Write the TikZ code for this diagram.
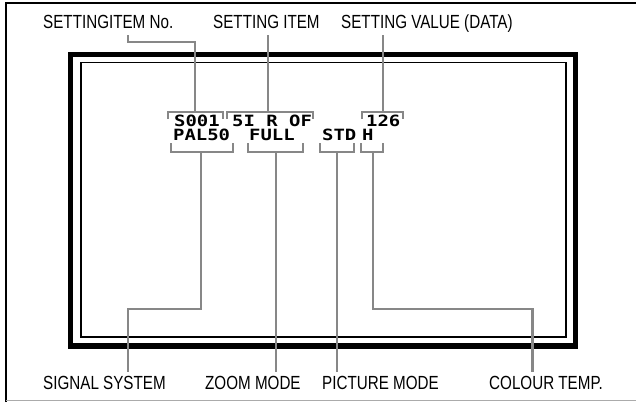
\documentclass[tikz,border=0pt]{standalone}
\usepackage{fontspec}
\setmainfont{Liberation Sans}[FakeStretch=0.8]
\newfontfamily\osdfont{DejaVu Sans Mono}[FakeStretch=1.22]
\usetikzlibrary{positioning,calc}
\definecolor{leadgray}{gray}{0.53}

\begin{document}
\begin{tikzpicture}[x=1pt,y=-1pt,
    label/.style={anchor=base west, inner sep=0pt, font=\fontsize{19}{22}\selectfont},
    osd/.style={anchor=base west, inner sep=0pt, font=\osdfont\bfseries\fontsize{15.5}{17}\selectfont},
    leader/.style={draw=leadgray, line width=2.3pt},
    bracket/.style={draw=leadgray, line width=2.3pt, line join=miter}
]
\useasboundingbox (0,0) rectangle (636,402);
% outer frame
\draw[line width=2pt] (5.5,402) -- (5.5,3) -- (636,3);
\draw[leadgray!70, line width=1.2pt] (5.5,400.5) -- (636,400.5);
% screen
\draw[line width=5.5pt] (70.5,54.5) rectangle (575.5,346);
\draw[line width=1.3pt] (81,62.5) rectangle (566,337);

% labels
\node[label] (itemno) at (43,28) {SETTINGITEM No.};
\node[label] (item)   at (213,28) {SETTING ITEM};
\node[label] (value)  at (341,28) {SETTING VALUE (DATA)};
\node[label] (sig)    at (43,389) {SIGNAL SYSTEM};
\node[label] (zoom)   at (205,389) {ZOOM MODE};
\node[label] (pict)   at (322,389) {PICTURE MODE};
\node[label] (colour) at (489,389) {COLOUR TEMP.};

% on-screen display
\node[osd] (s001) at (174,126.5) {S001};
\node[osd] (sir)  at (232,126.5) {5I R OF};
\node[osd] (val)  at (366,126.5) {126};
\node[osd] (pal)  at (173,140.5) {PAL50};
\node[osd] (full) at (249,140.5) {FULL};
\node[osd] (std)  at (322,140.5) {STD};
\node[osd] (hh)   at (362,140.5) {H};

% brackets
\coordinate (b1) at (195,111.7);
\coordinate (b2) at (268,111.7);
\coordinate (b3) at (383,111.7);
\coordinate (b4) at (201,151.7);
\coordinate (b5) at (276,151.7);
\coordinate (b6) at (337,151.7);
\coordinate (b7) at (373,151.7);
\draw[bracket] (168,119) |- (223,111.7) -- ++(0,7.3);
\draw[bracket] (227,119) |- (313,111.7) -- ++(0,7.3);
\draw[bracket] (362,119) |- (403,111.7) -- ++(0,7.3);
\draw[bracket] (171,143) |- (233,151.7) -- ++(0,-8.7);
\draw[bracket] (248,143) |- (303,151.7) -- ++(0,-8.7);
\draw[bracket] (320,143) |- (354,151.7) -- ++(0,-8.7);
\draw[bracket] (361,143) |- (383,151.7) -- ++(0,-8.7);

% leaders
\draw[leader] ([yshift=-7pt]$(itemno.base west)!0.65!(itemno.base east)$) -- ++(0,7) -| (b1);
\draw[leader] ([yshift=-7pt]item.base -| b2) -- (b2);
\draw[leader] ([yshift=-7pt]value.base -| b3) -- (b3);
\draw[leader] (b4) -- ++(0,157.3) -| ([yshift=4pt]$(sig.north west)!0.69!(sig.north east)$);
\draw[leader] (b5) -- ([yshift=4pt]zoom.north -| b5);
\draw[leader] (b6) -- ([yshift=4pt]pict.north -| b6);
\draw[leader] (b7) -- ++(0,157.3) -| ([yshift=4pt]$(colour.north west)!0.38!(colour.north east)$);
\end{tikzpicture}
\end{document}
